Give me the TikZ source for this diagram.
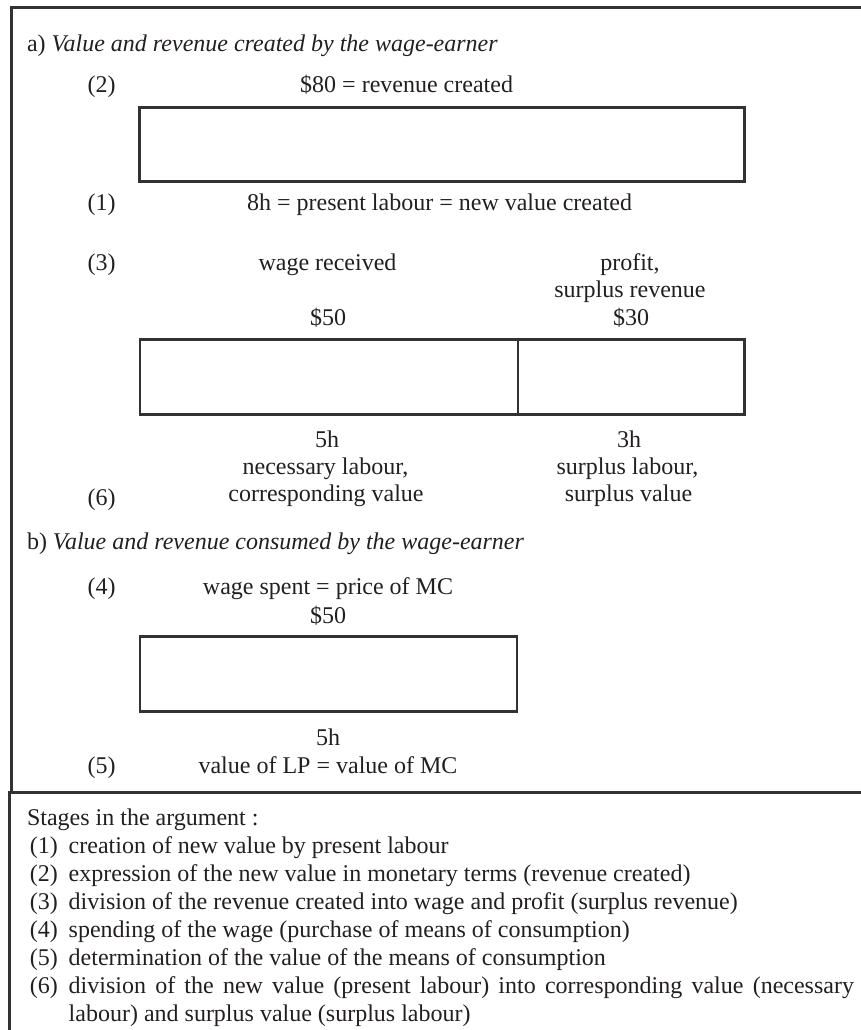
\documentclass[tikz,border=0pt]{standalone}
\usepackage{fontspec}
\setmainfont{Liberation Serif}
\definecolor{ln}{RGB}{50,50,52}
\definecolor{txt}{RGB}{35,31,32}
\begin{document}
\begin{tikzpicture}[x=0.5pt,y=-0.5pt,
  lbl/.style={inner sep=0pt, outer sep=0pt, anchor=base, text=txt, font=\fontsize{12}{14.05}\selectfont},
  lft/.style={lbl, anchor=base west},
  barbox/.style={draw=ln, line width=1.4pt, inner sep=0pt, outer sep=0pt, anchor=north west},
  divline/.style={draw=ln, line width=1.1pt},
  frameline/.style={draw=ln, line width=1.5pt, line join=miter}]
\useasboundingbox (0,0) rectangle (861,1030);

% frame
\coordinate (ftr) at (861,7.5);
\coordinate (ftl) at (11,7.5);
\coordinate (fml) at (11,793);
\coordinate (fdl) at (8,792.5);
\coordinate (fdr) at (861,792.5);
\coordinate (fbl) at (9.5,792);
\coordinate (fbb) at (9.5,1030);
\draw[frameline] (ftr) -- (ftl) -- (fml);
\draw[frameline] (fdl) -- (fdr);
\draw[frameline] (fbl) -- (fbb);

% part a
\node[lft] (ha) at (27,51) {a) \textit{Value and revenue created by the wage-earner}};
\node[lbl] (n2) at (101.5,92) {(2)};
\node[lbl] (rev) at (406.6,92) {\$80 = revenue created};
\node[barbox, minimum width=302.25pt, minimum height=37pt] (box1) at (139.7,107.3) {};
\node[lbl] (n1) at (101.5,210) {(1)};
\node[lbl] (nv) at (439.6,210) {8h = present labour = new value created};

\node[lbl] (n3) at (101.5,270.5) {(3)};
\node[lbl] (wr) at (327.5,270.5) {wage received};
\node[lbl] (pr) at (630,270.5) {profit,};
\node[lbl] (sr) at (630,297.5) {surplus revenue};
\node[lbl] (w50) at (328,325.5) {\$50};
\node[lbl] (p30) at (631,325.5) {\$30};
\node[barbox, minimum width=302.25pt, minimum height=37.5pt] (box2) at (140,339.7) {};
\coordinate (div) at (517.8,0);
\draw[divline] (box2.north -| div) -- (box2.south -| div);

\node[lbl] (h5) at (327,447.5) {5h};
\node[lbl] (h3) at (629,447.5) {3h};
\node[lbl] (nl) at (325.5,474.5) {necessary labour,};
\node[lbl] (sl) at (627.5,474.5) {surplus labour,};
\node[lbl] (cv) at (326,501.5) {corresponding value};
\node[lbl] (sv) at (628.5,501.5) {surplus value};
\node[lbl] (n6) at (101.5,505) {(6)};

% part b
\node[lft] (hb) at (27,549) {b) \textit{Value and revenue consumed by the wage-earner}};
\node[lbl] (n4) at (101.5,594) {(4)};
\node[lbl] (ws) at (328,594) {wage spent = price of MC};
\node[lbl] (s50) at (328,623) {\$50};
\node[barbox, minimum width=188.5pt, minimum height=37.5pt] (box3) at (140,636.3) {};
\node[lbl] (b5h) at (328,745) {5h};
\node[lbl] (n5) at (101.5,773.5) {(5)};
\node[lbl] (vlp) at (328,773.5) {value of LP = value of MC};

% stages
\node[lft] (st) at (27,825.5) {Stages in the argument :};
\node[lft] (l1) at (30,853.3) {(1)};
\node[lft] (t1) at (68.7,853.3) {creation of new value by present labour};
\node[lft] (l2) at (30,881.4) {(2)};
\node[lft] (t2) at (68.7,881.4) {expression of the new value in monetary terms (revenue created)};
\node[lft] (l3) at (30,909.5) {(3)};
\node[lft] (t3) at (68.7,909.5) {division of the revenue created into wage and profit (surplus revenue)};
\node[lft] (l4) at (30,937.6) {(4)};
\node[lft] (t4) at (68.7,937.6) {spending of the wage (purchase of means of consumption)};
\node[lft] (l5) at (30,965.7) {(5)};
\node[lft] (t5) at (68.7,965.7) {determination of the value of the means of consumption};
\node[lft] (l6) at (30,993.8) {(6)};
\node[lft] (t6) at (68.7,993.8) {\parbox[t]{392.65pt}{division of the new value (present labour) into corresponding value (necessary\linebreak labour) and surplus value (surplus labour)}};
\end{tikzpicture}
\end{document}
